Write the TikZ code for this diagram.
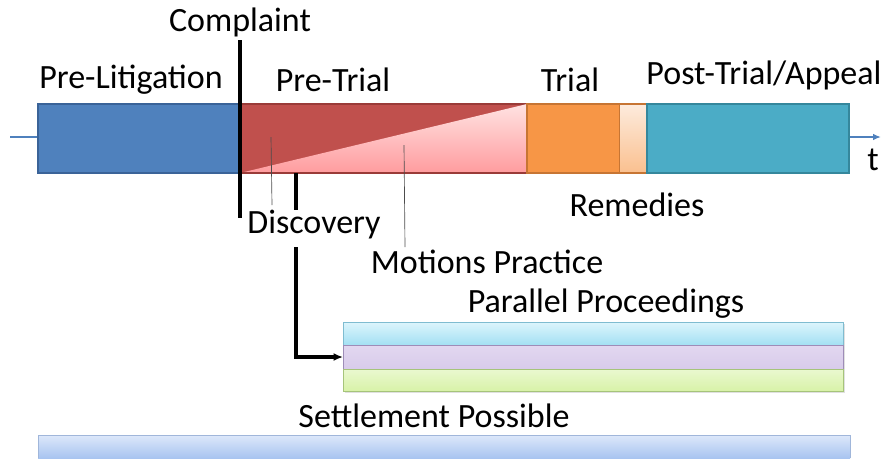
\documentclass[tikz,border=0pt]{standalone}
\usepackage{fontspec}
\setmainfont{Carlito}
\usetikzlibrary{arrows.meta}
\definecolor{cblue}{HTML}{4F81BD}
\definecolor{cblueD}{HTML}{3A6398}
\definecolor{cred}{HTML}{C0504D}
\definecolor{credD}{HTML}{9A3B38}
\definecolor{corange}{HTML}{F79646}
\definecolor{corangeD}{HTML}{C77533}
\definecolor{cteal}{HTML}{4BACC6}
\definecolor{ctealD}{HTML}{35879C}
\definecolor{pinkT}{HTML}{FFE2E2}
\definecolor{pinkB}{HTML}{FF9C9E}
\definecolor{peachT}{HTML}{FDEBDD}
\definecolor{peachB}{HTML}{FAC08F}
\definecolor{cyT}{HTML}{DDF5FC}
\definecolor{cyB}{HTML}{A3E0F3}
\definecolor{cyD}{HTML}{7FBCD0}
\definecolor{vioT}{HTML}{E2D7F0}
\definecolor{vioB}{HTML}{D8CBEA}
\definecolor{vioD}{HTML}{9E8DB8}
\definecolor{grT}{HTML}{D8F2A8}
\definecolor{grB}{HTML}{EAF8D0}
\definecolor{grD}{HTML}{A6C47A}
\definecolor{seT}{HTML}{DDE8FA}
\definecolor{seB}{HTML}{A8C4F0}
\tikzset{
  lbl/.style={font=\fontsize{25.5}{30}\selectfont, inner sep=0pt},
  phase/.style={line width=1.2pt},
  marker/.style={line width=3pt, black},
  pointer/.style={line width=0.5pt, black!70},
}
\begin{document}
\begin{tikzpicture}[x=0.75pt,y=-0.75pt]
\useasboundingbox (0,0) rectangle (887,458);
% axis
\draw[cblue, line width=1.5pt] (10,137) -- (38,137);
\draw[cblue, line width=1.5pt, -{Latex[length=6pt,width=5pt]}] (849,137) -- (881,137);
% phases
\draw[phase, draw=cblueD, fill=cblue] (38,104) rectangle (240,173);
\draw[phase, draw=credD, fill=cred] (240,104) rectangle (527,173);
\shade[top color=pinkT, bottom color=pinkB] (240,173) -- (527,104) -- (527,173) -- cycle;
\draw[draw=credD, line width=1.2pt] (240,173) -- (527,173);
\draw[phase, draw=corangeD, fill=corange] (527,104) rectangle (620,173);
\shade[top color=peachT, bottom color=peachB] (620,104) rectangle (647,173);
\draw[draw=corangeD, line width=1.2pt] (620,104) -- (647,104) (620,173) -- (647,173);
\draw[phase, draw=ctealD, fill=cteal] (647,104) rectangle (849,173);
% parallel proceedings
\fill[black!12] (345,324) rectangle (845,393);
\shade[top color=cyT, bottom color=cyB] (343,322) rectangle (843,345);
\draw[cyD, line width=0.6pt] (343,322) rectangle (843,345);
\shade[top color=vioT, bottom color=vioB] (343,345) rectangle (843,369);
\draw[vioD, line width=0.6pt] (343,345) rectangle (843,369);
\shade[top color=grB, bottom color=grT] (343,369) rectangle (843,391);
\draw[grD, line width=0.6pt] (343,369) rectangle (843,391);
% settlement bar
\shade[top color=seT, bottom color=seB] (38,435) rectangle (850,458);
\draw[seB!80!gray, line width=0.5pt] (38,458) -- (38,435) -- (850,435) -- (850,458);
% labels
\node[lbl] (complaint) at (240,22) {Complaint};
\node[lbl] (prelit) at (131,80) {Pre-Litigation};
\node[lbl] (pretrial) at (333,80) {Pre-Trial};
\node[lbl] (trial) at (570,80) {Trial};
\node[lbl] (post) at (764,75) {Post-Trial/Appeal};
\node[lbl] (t) at (873,160) {t};
\node[lbl] (remedies) at (637,205) {Remedies};
\node[lbl] (discovery) at (314,225) {Discovery};
\node[lbl] (motions) at (487,262) {Motions Practice};
\node[lbl] (parallel) at (606,304) {Parallel Proceedings};
\node[lbl] (settle) at (434,416) {Settlement Possible};
% markers
\coordinate (c1) at (240,40);
\coordinate (c2) at (240,218);
\draw[marker] (c1) -- (c2);
\coordinate (d1) at (296,173);
\coordinate (d2) at (296,210);
\draw[marker] (d1) -- (d2);
\coordinate (d3) at (296,247);
\coordinate (d4) at (296,357);
\coordinate (d5) at (343,357);
\draw[black, line width=2.5pt, -{Latex[length=7pt,width=6pt]}] (d3) -- (d4) -- (d5);
% pointers
\coordinate (p1) at (271,137);
\coordinate (p2) at (272,205);
\draw[pointer] (p1) -- (p2);
\coordinate (m1) at (404,145);
\coordinate (m2) at (405,247);
\draw[pointer] (m1) -- (m2);
\end{tikzpicture}
\end{document}
